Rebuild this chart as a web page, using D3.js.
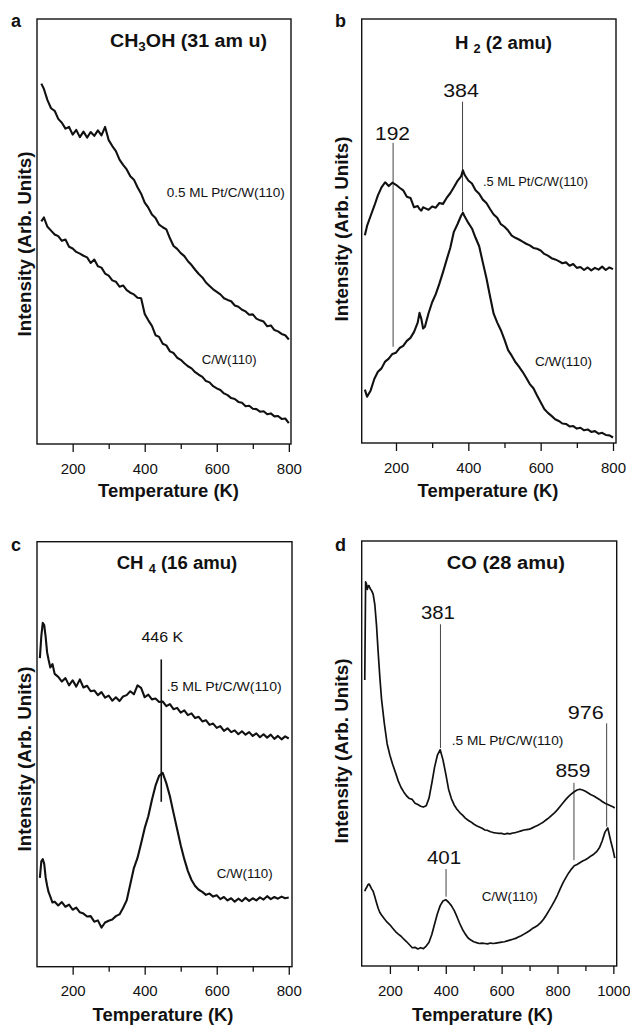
<!DOCTYPE html>
<html>
<head>
<meta charset="utf-8">
<script src="https://cdn.jsdelivr.net/npm/d3@7"></script>
<style>
  body { margin: 0; background: #fff; }
  text { font-family: "Liberation Sans", Arial, Helvetica, sans-serif; fill: #111; }
</style>
</head>
<body>
<div id="chart"></div>
<script>
// Intensities in arbitrary units:
// 0 = bottom of the panel frame, 100 = top of the frame.

// Panel a: CH3OH (31 amu)
var tempA = [113, 120, 130, 140, 150, 160, 170, 180, 190, 200,
  210, 220, 230, 240, 250, 260, 270, 280, 290, 300,
  310, 320, 330, 340, 350, 360, 370, 380, 390, 400,
  410, 420, 430, 440, 450, 460, 470, 480, 490, 500,
  510, 520, 530, 540, 550, 560, 570, 580, 590, 600,
  610, 620, 630, 640, 650, 660, 670, 680, 690, 700,
  710, 720, 730, 740, 750, 760, 770, 780, 790, 800];
var ch3ohPt = [84.8, 83.6, 80.9, 79.0, 78.4, 76.5, 75.6, 74.2, 74.6, 72.8,
  73.9, 72.2, 73.5, 72.1, 73.4, 72.5, 73.8, 72.6, 74.6, 71.5,
  70.1, 68.9, 66.9, 65.7, 64.6, 63.0, 62.2, 60.4, 58.9, 56.8,
  55.6, 54.0, 53.2, 51.6, 51.0, 50.5, 48.4, 46.6, 45.9, 44.9,
  44.2, 43.0, 42.1, 41.0, 40.0, 39.2, 38.0, 37.2, 36.4, 35.8,
  35.2, 34.3, 33.9, 33.6, 32.6, 32.3, 31.6, 31.2, 30.4, 30.5,
  29.5, 29.1, 28.8, 27.7, 27.9, 26.8, 26.5, 25.9, 25.6, 24.6];
var ch3ohCW = [52.4, 53.3, 51.1, 50.2, 49.3, 48.9, 47.8, 48.1, 46.4, 46.0,
  45.2, 44.8, 44.3, 43.9, 42.6, 43.4, 41.8, 41.5, 40.1, 39.6,
  38.5, 38.2, 37.0, 37.3, 36.2, 35.6, 35.2, 34.4, 34.3, 30.6,
  29.1, 27.8, 25.6, 25.2, 23.6, 23.2, 21.8, 21.4, 20.3, 19.8,
  19.0, 18.3, 17.8, 16.9, 16.3, 15.8, 14.8, 14.5, 13.6, 13.1,
  12.7, 11.9, 11.5, 10.8, 10.6, 9.9, 9.7, 8.9, 9.0, 8.3,
  8.2, 7.6, 7.7, 7.0, 7.2, 6.5, 6.6, 5.9, 6.0, 4.9];

// Panel b: H2 (2 amu)
var tempB = [114, 120, 130, 140, 150, 160, 170, 180, 190, 200,
  210, 220, 230, 240, 250, 260, 265, 270, 275, 280,
  290, 300, 310, 320, 330, 340, 350, 360, 370, 380,
  385, 390, 400, 410, 420, 430, 440, 450, 460, 470,
  480, 490, 500, 510, 520, 530, 540, 550, 560, 570,
  580, 590, 600, 610, 620, 630, 640, 650, 660, 670,
  680, 690, 700, 710, 720, 730, 740, 750, 760, 770,
  780, 790, 800];
var h2Pt = [49.0, 51.2, 53.6, 55.9, 58.4, 60.3, 61.5, 60.6, 61.4, 60.9,
  60.2, 59.6, 58.1, 57.8, 55.6, 55.9, 55.2, 54.8, 55.6, 55.4,
  55.0, 55.8, 55.5, 56.6, 56.4, 57.8, 58.9, 60.3, 61.8, 62.9,
  64.3, 63.2, 61.9, 61.2, 59.6, 58.8, 57.4, 56.6, 55.2, 53.9,
  53.1, 51.6, 51.0, 50.1, 48.9, 48.4, 48.0, 47.5, 47.0, 46.6,
  46.0, 45.8, 45.4, 44.6, 44.2, 43.6, 43.3, 42.9, 42.4, 42.6,
  41.8, 42.2, 41.3, 41.5, 40.8, 41.4, 40.7, 41.3, 40.9, 41.6,
  40.8, 41.4, 41.0];
var h2CW = [12.6, 10.9, 12.4, 15.1, 16.8, 17.6, 19.2, 19.9, 21.0, 21.3,
  22.4, 22.9, 24.1, 24.8, 26.2, 28.4, 30.7, 29.3, 27.0, 27.4,
  30.6, 33.2, 35.1, 37.6, 40.3, 43.2, 46.0, 49.8, 51.6, 53.6,
  54.3, 53.4, 51.9, 50.6, 48.4, 46.4, 42.6, 38.9, 34.6, 30.5,
  28.4, 26.6, 24.4, 21.9, 20.6, 19.1, 18.0, 16.8, 15.4, 13.9,
  12.9, 11.2, 9.6, 8.0, 7.1, 6.4, 5.6, 5.2, 4.6, 4.5,
  3.9, 4.0, 3.4, 3.6, 3.0, 3.2, 2.6, 2.8, 2.2, 2.4,
  1.9, 1.8, 1.3];
var h2Peaks = [[192, 70.8, 22.7, "192"], [384, 80.5, 54.6, "384"]];

// Panel c: CH4 (16 amu)
var tempC = [109, 113, 117, 121, 125, 129, 133, 138, 144, 150,
  160, 170, 180, 190, 200, 210, 220, 230, 240, 250,
  260, 270, 280, 290, 300, 310, 320, 330, 340, 350,
  360, 370, 380, 390, 400, 410, 420, 430, 440, 450,
  460, 470, 480, 490, 500, 510, 520, 530, 540, 550,
  560, 570, 580, 590, 600, 610, 620, 630, 640, 650,
  660, 670, 680, 690, 700, 710, 720, 730, 740, 750,
  760, 770, 780, 790, 800];
var ch4Pt = [72.6, 77.8, 80.9, 80.4, 77.6, 74.0, 72.3, 70.4, 71.2, 68.9,
  68.2, 67.1, 67.9, 66.2, 67.4, 65.9, 67.6, 65.7, 66.1, 64.8,
  65.0, 63.9, 64.6, 63.3, 63.8, 62.6, 63.4, 62.5, 63.6, 63.9,
  64.8, 64.1, 66.2, 65.6, 63.4, 64.0, 62.9, 63.1, 62.3, 62.4,
  61.3, 61.8, 60.6, 60.9, 59.8, 60.3, 59.2, 59.6, 58.5, 58.8,
  57.7, 58.0, 56.9, 57.2, 56.2, 56.6, 55.5, 56.1, 55.2, 55.6,
  54.7, 55.4, 54.6, 55.2, 54.3, 54.9, 54.0, 54.7, 53.9, 54.6,
  53.6, 54.3, 53.5, 54.2, 53.7];
var ch4CW = [20.9, 24.8, 25.3, 24.2, 21.0, 19.1, 17.6, 16.5, 15.1, 15.3,
  14.4, 15.2, 14.1, 14.6, 13.4, 13.9, 12.8, 12.5, 11.8, 11.9,
  10.6, 10.9, 9.2, 10.4, 10.8, 11.1, 11.9, 12.3, 13.8, 15.6,
  19.4, 23.2, 25.6, 29.0, 32.6, 35.4, 39.2, 42.6, 44.9, 45.6,
  43.2, 40.1, 36.2, 32.4, 28.6, 25.3, 22.5, 20.4, 19.0, 18.1,
  17.6, 16.9, 17.2, 16.5, 16.8, 15.9, 16.4, 15.6, 16.1, 15.3,
  16.0, 15.4, 16.2, 15.5, 16.1, 15.6, 16.3, 15.8, 16.6, 15.9,
  16.4, 16.0, 16.5, 16.1, 16.3];
var ch4Peaks = [[446, 72.3, 38.8, "446 K"]];

// Panel d: CO (28 amu)
var tempD = [110, 113, 116, 119, 122, 125, 128, 131, 134, 140,
  146, 152, 158, 164, 170, 180, 190, 200, 210, 220,
  230, 240, 250, 260, 270, 280, 290, 300, 310, 320,
  330, 340, 350, 360, 370, 380, 390, 400, 410, 420,
  430, 440, 450, 460, 470, 480, 490, 500, 510, 520,
  530, 540, 550, 560, 570, 580, 590, 600, 610, 620,
  630, 640, 650, 660, 670, 680, 690, 700, 710, 720,
  730, 740, 750, 760, 770, 780, 790, 800, 810, 820,
  830, 840, 850, 860, 870, 880, 890, 900, 910, 920,
  930, 940, 950, 960, 970, 980, 990, 1000, 1005];
var coPt = [67.3, 90.4, 89.9, 88.6, 89.4, 89.5, 89.0, 88.6, 88.4, 87.5,
  85.0, 80.2, 73.8, 67.9, 62.8, 57.1, 52.3, 49.6, 47.4, 45.5,
  43.5, 42.0, 40.9, 40.0, 39.4, 39.2, 38.3, 38.0, 37.6, 37.4,
  37.7, 39.5, 43.0, 46.8, 49.6, 50.9, 48.5, 45.2, 41.6, 39.4,
  37.9, 36.9, 36.1, 35.5, 34.8, 34.3, 33.9, 33.4, 33.0, 32.7,
  32.4, 32.0, 31.9, 31.6, 31.4, 31.3, 31.2, 31.2, 31.0, 31.2,
  31.1, 31.3, 31.4, 31.6, 31.8, 32.0, 32.1, 32.2, 32.5, 32.8,
  33.1, 33.5, 33.9, 34.4, 34.9, 35.5, 36.1, 36.8, 37.6, 38.4,
  39.2, 39.9, 40.5, 41.0, 41.4, 41.6, 41.4, 41.1, 40.7, 40.3,
  40.0, 39.6, 39.2, 38.7, 38.3, 38.0, 37.7, 37.4, 37.2];
var coCW = [17.6, 18.1, 18.4, 18.8, 19.2, 19.3, 19.0, 18.6, 18.2, 17.6,
  16.3, 14.9, 13.6, 12.6, 12.0, 11.1, 10.3, 9.7, 8.9, 8.1,
  7.5, 7.0, 6.3, 5.7, 5.0, 4.3, 4.4, 4.0, 4.3, 4.1,
  4.7, 5.6, 7.4, 9.9, 12.3, 14.2, 15.3, 15.6, 15.0, 14.2,
  13.1, 11.6, 10.0, 8.6, 7.5, 6.6, 6.1, 5.7, 5.5, 5.3,
  5.4, 5.3, 5.2, 5.4, 5.3, 5.4, 5.5, 5.6, 5.7, 5.9,
  6.1, 6.3, 6.5, 6.8, 7.1, 7.5, 7.9, 8.3, 8.8, 9.2,
  9.6, 10.2, 11.0, 12.0, 13.1, 14.2, 15.4, 16.7, 18.2, 19.6,
  20.8, 21.9, 22.8, 23.6, 23.9, 24.3, 24.7, 25.0, 25.4, 25.9,
  26.3, 26.9, 27.8, 29.4, 31.5, 32.5, 29.6, 27.0, 25.4];
var coPeaks = [[381, 80.4, 51.3, "381"], [859, 43.1, 24.9, "859"],
  [976, 57.1, 32.8, "976"], [401, 22.8, 16.3, "401"]];

// Tick values
var ticksMajor = [200, 400, 600, 800];
var ticksMinor = [300, 500, 700];
var ticksMajorD = [200, 400, 600, 800, 1000];
var ticksMinorD = [300, 500, 700, 900];

// Define SVG area dimensions
var svgWidth = 630;
var svgHeight = 1028;

var svg = d3.select("#chart")
  .append("svg")
  .attr("width", svgWidth)
  .attr("height", svgHeight);

// label placement for the peak markers (offset of label centre, gap above line)
var peakLabelLayout = {
  "192": { dx: -0.6, gap: 3, w: 35, size: 19 },
  "384": { dx: -1.5, gap: 5, w: 35.7, size: 19 },
  "446 K": { dx: 1, gap: 17.6, w: 41.7, size: 15 },
  "381": { dx: -2.5, gap: 5, w: 34, size: 19 },
  "859": { dx: -1, gap: 6, w: 35, size: 19 },
  "976": { dx: -21, gap: 4, w: 36, size: 19 },
  "401": { dx: -2, gap: 4.7, w: 34.3, size: 19 }
};

var panels = [
  {
    letter: "a", letterX: 11, letterY: 27,
    left: 37, top: 19, right: 291, bottom: 444, domain: [101, 806],
    temps: tempA, series: [ch3ohPt, ch3ohCW], strokeW: 2.1,
    major: ticksMajor, minor: ticksMinor,
    title: [["CH", 0], ["3", 1], ["OH (31 am u)", 0]], titleX: 110, titleY: 47, titleW: 157,
    ylabX: 31, ylabY: 244, xlabX: 168.5, xlabY: 497,
    ptText: "0.5 ML Pt/C/W(110)", ptX: 166.7, ptY: 197, ptW: 118,
    cwX: 201.7, cwY: 364, cwW: 55,
    peaks: [], peakColor: "#444", peakWidth: 1
  },
  {
    letter: "b", letterX: 335, letterY: 27,
    left: 361.7, top: 19, right: 616, bottom: 443, domain: [105.2, 808.3],
    temps: tempB, series: [h2Pt, h2CW], strokeW: 2.1,
    major: ticksMajor, minor: ticksMinor,
    title: [["H ", 0], ["2", 1], [" (2 amu)", 0]], titleX: 455, titleY: 49, titleW: 97,
    ylabX: 348, ylabY: 229, xlabX: 488, xlabY: 497,
    ptText: ".5 ML Pt/C/W(110)", ptX: 483, ptY: 186, ptW: 105,
    cwX: 535, cwY: 366, cwW: 57,
    peaks: h2Peaks, peakColor: "#444", peakWidth: 1
  },
  {
    letter: "c", letterX: 11, letterY: 551,
    left: 37, top: 541.7, right: 292, bottom: 966.7, domain: [101, 809],
    temps: tempC, series: [ch4Pt, ch4CW], strokeW: 2.1,
    major: ticksMajor, minor: ticksMinor,
    title: [["CH ", 0], ["4", 1], [" (16 amu)", 0]], titleX: 116.7, titleY: 569, titleW: 120.6,
    ylabX: 31, ylabY: 759, xlabX: 163, xlabY: 1021,
    ptText: ".5 ML Pt/C/W(110)", ptX: 166.7, ptY: 691, ptW: 115,
    cwX: 216.7, cwY: 878, cwW: 56,
    peaks: ch4Peaks, peakColor: "#111", peakWidth: 1.6
  },
  {
    letter: "d", letterX: 335, letterY: 551,
    left: 361.7, top: 541, right: 616.7, bottom: 966, domain: [99, 1012],
    temps: tempD, series: [coPt, coCW], strokeW: 1.7,
    major: ticksMajorD, minor: ticksMinorD,
    title: [["CO (28 amu)", 0]], titleX: 446.7, titleY: 569, titleW: 118.3,
    ylabX: 348, ylabY: 751, xlabX: 482.5, xlabY: 1021,
    ptText: ".5 ML Pt/C/W(110)", ptX: 451.7, ptY: 745, ptW: 111.7,
    cwX: 481.7, cwY: 901, cwW: 56,
    peaks: coPeaks, peakColor: "#444", peakWidth: 1
  }
];

function drawPanel(p) {
  var xScale = d3.scaleLinear().domain(p.domain).range([p.left, p.right]);
  var yScale = d3.scaleLinear().domain([0, 100]).range([p.bottom, p.top]);
  var g = svg.append("g");

  // minor ticks (no labels)
  var minorAxis = d3.axisBottom(xScale).tickValues(p.minor).tickSize(5).tickFormat("");
  g.append("g")
    .attr("transform", `translate(0, ${p.bottom})`)
    .call(minorAxis)
    .call(a => a.select(".domain").remove())
    .selectAll("line").attr("stroke", "#111").attr("stroke-width", 1.3);

  // major ticks with labels
  var majorAxis = d3.axisBottom(xScale).tickValues(p.major).tickSize(8)
    .tickPadding(11).tickFormat(d3.format("d"));
  var ax = g.append("g")
    .attr("transform", `translate(0, ${p.bottom})`)
    .call(majorAxis);
  ax.select(".domain").remove();
  ax.selectAll("line").attr("stroke", "#111").attr("stroke-width", 1.3);
  ax.selectAll("text")
    .attr("font-family", "Liberation Sans, Arial, sans-serif")
    .attr("font-size", 15)
    .attr("fill", "#111");

  // frame
  g.append("rect")
    .attr("x", p.left).attr("y", p.top)
    .attr("width", p.right - p.left).attr("height", p.bottom - p.top)
    .attr("fill", "none").attr("stroke", "#111").attr("stroke-width", 1.4);

  // peak marker lines
  p.peaks.forEach(function(pk) {
    g.append("line")
      .attr("x1", xScale(pk[0])).attr("x2", xScale(pk[0]))
      .attr("y1", yScale(pk[1])).attr("y2", yScale(pk[2]))
      .attr("stroke", p.peakColor).attr("stroke-width", p.peakWidth);
    var lay = peakLabelLayout[pk[3]];
    g.append("text")
      .attr("x", xScale(pk[0]) + lay.dx)
      .attr("y", yScale(pk[1]) - lay.gap)
      .attr("text-anchor", "middle")
      .attr("font-size", lay.size)
      .attr("textLength", lay.w)
      .attr("lengthAdjust", "spacingAndGlyphs")
      .text(pk[3]);
  });

  // TPD traces
  var line = d3.line()
    .x(d => xScale(d[0]))
    .y(d => yScale(d[1]));
  p.series.forEach(function(s) {
    g.append("path")
      .datum(d3.zip(p.temps, s))
      .attr("d", line)
      .attr("fill", "none")
      .attr("stroke", "#111")
      .attr("stroke-width", p.strokeW)
      .attr("stroke-linejoin", "round");
  });

  // curve labels
  g.append("text")
    .attr("x", p.ptX).attr("y", p.ptY)
    .attr("font-size", 12)
    .attr("textLength", p.ptW).attr("lengthAdjust", "spacingAndGlyphs")
    .text(p.ptText);
  g.append("text")
    .attr("x", p.cwX).attr("y", p.cwY)
    .attr("font-size", 12)
    .attr("textLength", p.cwW).attr("lengthAdjust", "spacingAndGlyphs")
    .text("C/W(110)");

  // title with subscript
  var title = g.append("text")
    .attr("x", p.titleX).attr("y", p.titleY)
    .attr("font-size", 17.5).attr("font-weight", "bold")
    .attr("textLength", p.titleW).attr("lengthAdjust", "spacingAndGlyphs");
  var shifted = false;
  p.title.forEach(function(part) {
    var ts = title.append("tspan").text(part[0]);
    if (part[1]) {
      ts.attr("font-size", 12).attr("dy", 4);
      shifted = true;
    } else if (shifted) {
      ts.attr("dy", -4);
      shifted = false;
    }
  });

  // panel letter
  g.append("text")
    .attr("x", p.letterX).attr("y", p.letterY)
    .attr("font-size", 18).attr("font-weight", "bold")
    .text(p.letter);

  // axis titles
  g.append("text")
    .attr("x", p.xlabX).attr("y", p.xlabY)
    .attr("text-anchor", "middle")
    .attr("font-size", 17.5).attr("font-weight", "bold")
    .attr("textLength", 141).attr("lengthAdjust", "spacingAndGlyphs")
    .text("Temperature (K)");
  g.append("text")
    .attr("transform", `translate(${p.ylabX}, ${p.ylabY}) rotate(-90)`)
    .attr("text-anchor", "middle")
    .attr("font-size", 17.5).attr("font-weight", "bold")
    .attr("textLength", 185).attr("lengthAdjust", "spacingAndGlyphs")
    .text("Intensity (Arb. Units)");
}

panels.forEach(drawPanel);
</script>
</body>
</html>
